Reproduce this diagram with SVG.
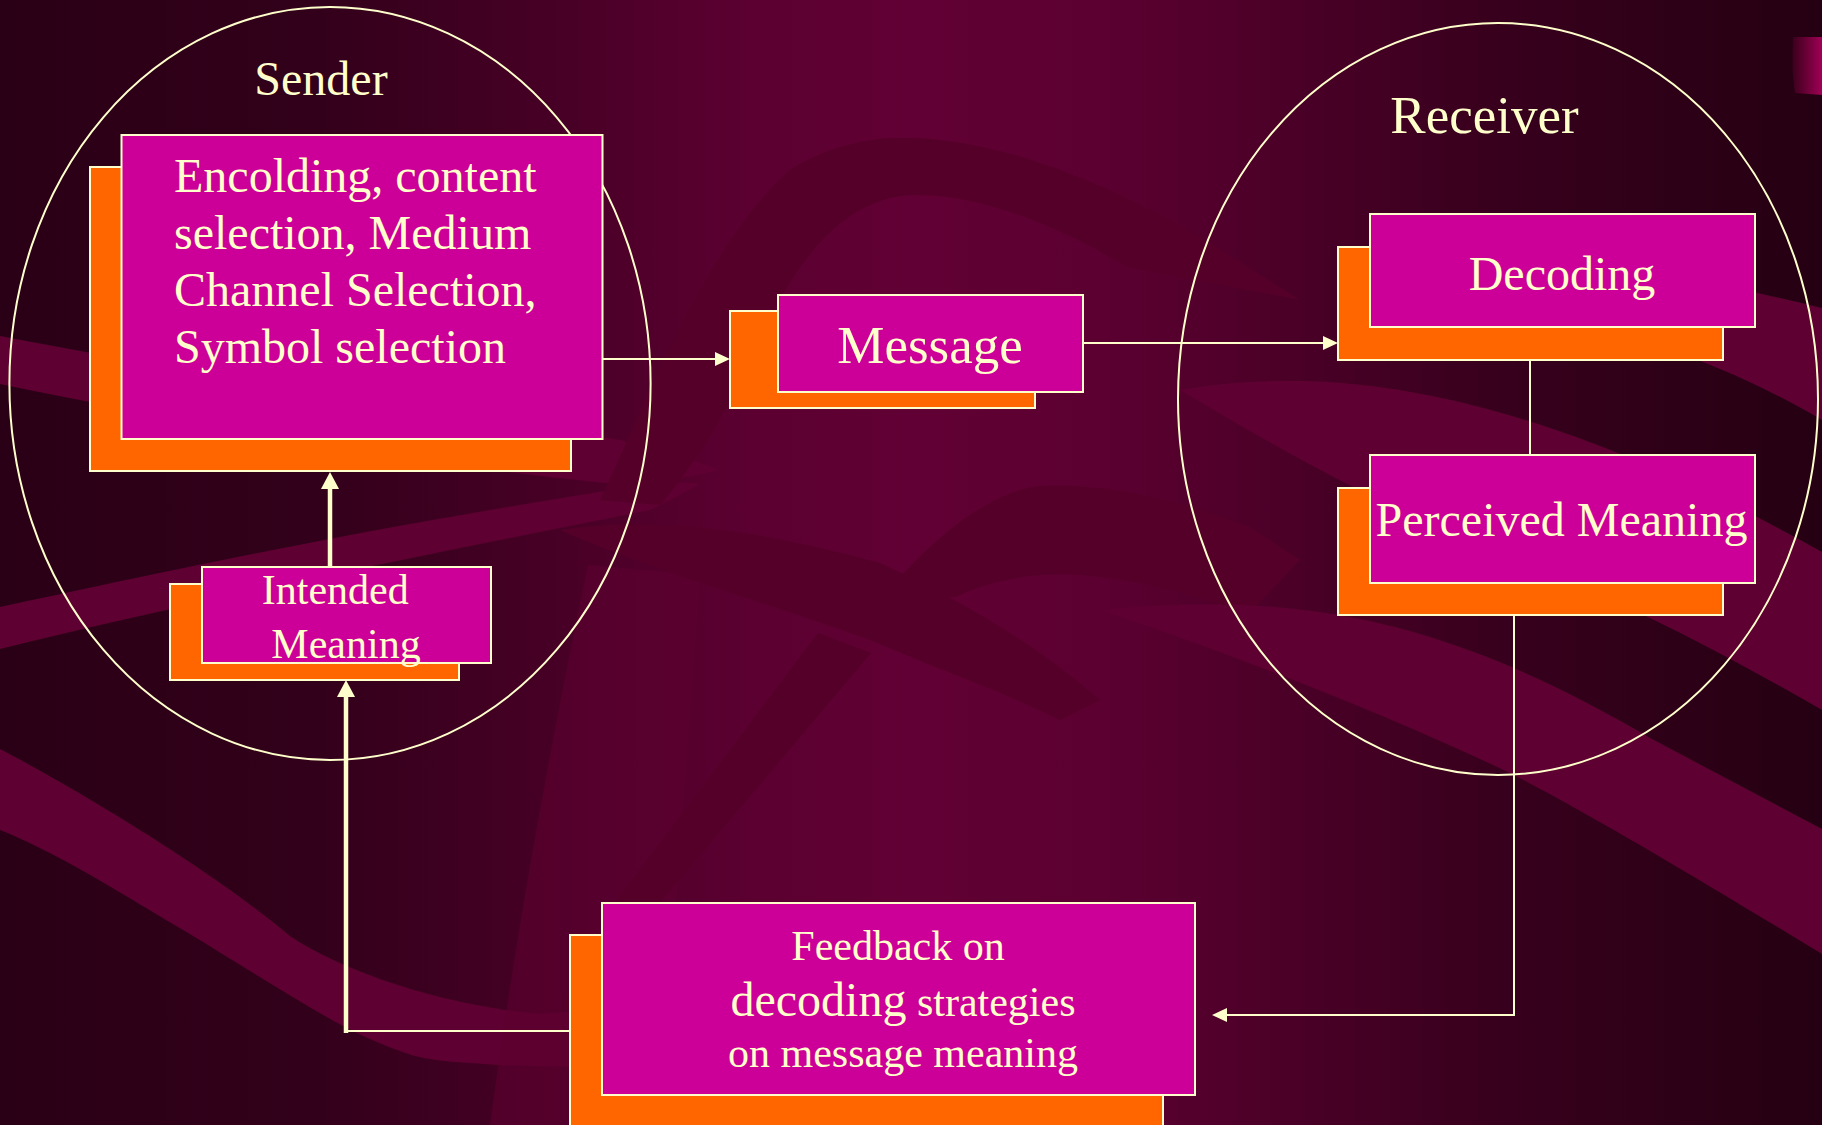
<svg xmlns="http://www.w3.org/2000/svg" width="1822" height="1125" viewBox="0 0 1822 1125">
<defs>
<style>
.txt{font-family:"Liberation Serif","Times New Roman",serif;fill:#FFFFCC;}
.front{fill:#CC0099;stroke:#FFFFCC;stroke-width:2;}
.shadow{fill:#FF6600;stroke:#FFFFCC;stroke-width:2;}
.ring{fill:none;stroke:#FFFFCC;stroke-width:2;}
.thin{fill:none;stroke:#FFFFCC;stroke-width:2;}
.thick{fill:none;stroke:#FFFFCC;stroke-width:4.5;}
.lite{fill:#5e0031;}
.dark{fill:#550029;}
</style>
<linearGradient id="bg" x1="0" y1="0" x2="1" y2="0">
<stop offset="0" stop-color="#2a0016"/>
<stop offset="0.17" stop-color="#32001a"/>
<stop offset="0.3" stop-color="#460025"/>
<stop offset="0.4" stop-color="#5a0030"/>
<stop offset="0.5" stop-color="#610034"/>
<stop offset="0.6" stop-color="#5c0031"/>
<stop offset="0.7" stop-color="#4c0028"/>
<stop offset="0.82" stop-color="#38001d"/>
<stop offset="1" stop-color="#250012"/>
</linearGradient>
<linearGradient id="tab" x1="0" y1="0" x2="1" y2="0">
<stop offset="0" stop-color="#3a001c"/>
<stop offset="1" stop-color="#a00055"/>
</linearGradient>
<marker id="arrThin" viewBox="0 0 15 14" refX="10" refY="7" markerWidth="15" markerHeight="14" markerUnits="userSpaceOnUse" orient="auto">
<path d="M0,0 L15,7 L0,14 Z" fill="#FFFFCC"/>
</marker>
<marker id="arrThick" viewBox="0 0 17 18" refX="8" refY="9" markerWidth="17" markerHeight="18" markerUnits="userSpaceOnUse" orient="auto">
<path d="M0,0 L17,9 L0,18 Z" fill="#FFFFCC"/>
</marker>
</defs>

<g id="background">
<rect width="1822" height="1125" fill="url(#bg)"/>
<path class="lite" d="M0,336 C200,375 450,410 620,440 C660,450 700,462 720,470 C690,478 650,482 620,484 C450,470 200,425 0,384 Z"/>
<path class="lite" d="M0,607 C150,575 350,530 650,484 C670,482 690,482 700,484 C680,495 660,505 650,510 C400,560 200,600 0,649 Z"/>
<path class="lite" d="M0,749 C50,775 200,860 290,936 C340,970 440,1005 539,1014 L620,1008 L620,1068 L498,1065 C460,1062 440,1062 415,1056 C380,1045 350,1030 332,1020 C270,985 210,945 166,920 C100,880 50,850 0,830 Z"/>
<path class="lite" opacity="0.6" d="M588,565 L700,575 L660,1125 L490,1125 C520,900 560,700 588,565 Z"/>
<path class="dark" d="M600,500 C640,420 700,250 790,170 C830,145 870,138 900,138 C1000,136 1130,190 1240,262 L1300,300 L1127,267 C1050,220 970,193 913,195 C840,197 790,270 760,340 C730,410 690,470 660,505 Z"/>
<path class="dark" d="M560,530 C650,515 760,530 880,563 C960,600 1030,640 1100,700 L1060,720 C1000,690 940,670 870,640 C760,600 650,570 560,530 Z"/>
<path class="dark" d="M880,600 C930,540 990,490 1041,486 C1110,483 1180,500 1250,527 L1300,560 L1250,613 C1180,590 1100,570 1041,575 C1000,578 970,590 956,597 Z"/>
<path class="dark" d="M818,633 L871,653 L662,900 L600,1010 L560,1010 L617,900 Z"/>
<path class="lite" d="M1500,240 C1650,270 1750,290 1822,308 L1822,420 C1720,360 1620,330 1500,300 Z"/>
<path class="lite" d="M1180,390 C1350,360 1550,400 1822,552 L1822,710 C1700,640 1600,590 1480,545 C1380,505 1280,450 1180,390 Z"/>
<path class="lite" d="M1100,610 C1300,590 1450,620 1652,739 L1822,829 L1822,954 C1700,880 1600,820 1514,775 C1400,720 1250,660 1100,610 Z"/>
<path fill="url(#tab)" d="M1793,37 L1822,37 L1822,95 L1795,93 C1792,75 1792,55 1793,37 Z"/>
</g>

<g id="sender">
<ellipse class="ring" cx="330" cy="383.5" rx="320.6" ry="376.5"/>
<text class="txt" x="321" y="95" font-size="48" text-anchor="middle">Sender</text>
</g>

<g id="receiver">
<ellipse class="ring" cx="1498" cy="399" rx="320" ry="376"/>
<text class="txt" x="1484.5" y="133" font-size="53" text-anchor="middle">Receiver</text>
</g>

<g id="connectors">
<path class="thin" d="M602,359 H725" marker-end="url(#arrThin)"/>
<path class="thin" d="M1083,343 H1333" marker-end="url(#arrThin)"/>
<path class="thin" d="M1530,360 V455"/>
<path class="thin" d="M1514,615 V1015 H1217" marker-end="url(#arrThin)"/>
<path class="thin" d="M570,1031 H346"/>
<path class="thick" d="M346,1033 V689" marker-end="url(#arrThick)"/>
<path class="thick" d="M330,567 V481" marker-end="url(#arrThick)"/>
</g>

<g id="encoding">
<rect class="shadow" x="90" y="167" width="481" height="304"/>
<rect class="front" x="121.5" y="135" width="481" height="304"/>
<text class="txt" font-size="48">
<tspan x="174" y="192">Encolding, content</tspan>
<tspan x="174" y="249">selection, Medium</tspan>
<tspan x="174" y="306">Channel Selection,</tspan>
<tspan x="174" y="363">Symbol selection</tspan>
</text>
</g>

<g id="message">
<rect class="shadow" x="730" y="311" width="305" height="97"/>
<rect class="front" x="778" y="295" width="305" height="97"/>
<text class="txt" x="930" y="363" font-size="53" text-anchor="middle">Message</text>
</g>

<g id="decoding">
<rect class="shadow" x="1338" y="247" width="385" height="113"/>
<rect class="front" x="1370" y="214" width="385" height="113"/>
<text class="txt" x="1562" y="290" font-size="48" text-anchor="middle">Decoding</text>
</g>

<g id="perceived-meaning">
<rect class="shadow" x="1338" y="488" width="385" height="127"/>
<rect class="front" x="1370" y="455" width="385" height="128"/>
<text class="txt" x="1561.5" y="536" font-size="48" text-anchor="middle">Perceived Meaning</text>
</g>

<g id="intended-meaning">
<rect class="shadow" x="170" y="584" width="289" height="96"/>
<rect class="front" x="202" y="567" width="289" height="96"/>
<text class="txt" font-size="42" text-anchor="middle">
<tspan x="340.5" y="604">Intended</tspan>
<tspan x="346" y="658">Meaning</tspan>
</text>
</g>

<g id="feedback">
<rect class="shadow" x="570" y="935" width="593" height="195"/>
<rect class="front" x="602" y="903" width="593" height="192"/>
<text class="txt" font-size="42" text-anchor="middle" x="898" y="960">Feedback on</text>
<text class="txt" font-size="42" text-anchor="middle" x="903" y="1016"><tspan font-size="48">decoding</tspan> strategies</text>
<text class="txt" font-size="42" text-anchor="middle" x="903" y="1067">on message meaning</text>
</g>
</svg>
